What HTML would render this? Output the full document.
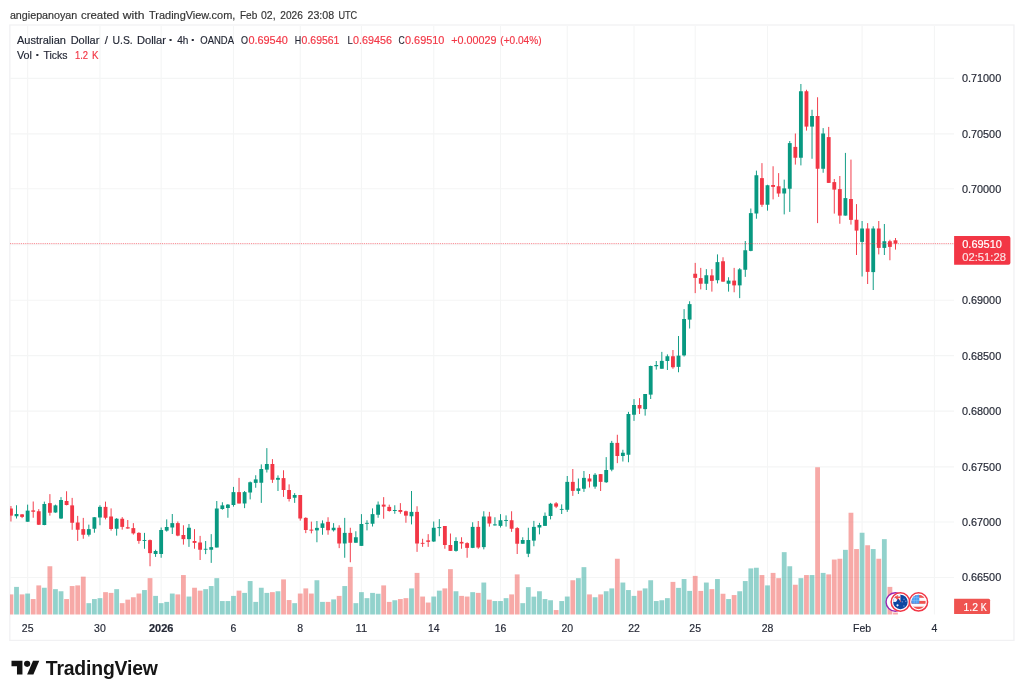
<!DOCTYPE html>
<html lang="en"><head><meta charset="utf-8"><title>AUDUSD chart - TradingView</title>
<style>
html,body{margin:0;padding:0;background:#fff;}
body{width:1024px;height:696px;overflow:hidden;position:relative;font-family:"Liberation Sans","DejaVu Sans",sans-serif;}
svg{position:absolute;left:0;top:0;display:block;}
text{font-family:"Liberation Sans","DejaVu Sans",sans-serif;filter:url(#tb);fill:currentColor;stroke:currentColor;stroke-width:0.18px;}
.ax{font-size:11.7px;color:#252936;}
.lg{font-size:11.6px;color:#252936;}
.rv{color:#f23645;}
.hd{font-size:11.6px;color:#333333;}
</style></head><body>
<svg width="1024" height="696" viewBox="0 0 1024 696">
<rect x="0" y="0" width="1024" height="696" fill="#ffffff"/>
<rect x="9.85" y="25.0" width="1004.1" height="615.4" fill="#ffffff" stroke="#f1f1f3" stroke-width="1.3"/>
<g stroke="#f4f5f5" stroke-width="1.1" fill="none">
<line x1="27.64" y1="26" x2="27.64" y2="614.5"/>
<line x1="99.96" y1="26" x2="99.96" y2="614.5"/>
<line x1="161.15" y1="26" x2="161.15" y2="614.5"/>
<line x1="233.47" y1="26" x2="233.47" y2="614.5"/>
<line x1="300.23" y1="26" x2="300.23" y2="614.5"/>
<line x1="361.42" y1="26" x2="361.42" y2="614.5"/>
<line x1="433.74" y1="26" x2="433.74" y2="614.5"/>
<line x1="500.49" y1="26" x2="500.49" y2="614.5"/>
<line x1="567.25" y1="26" x2="567.25" y2="614.5"/>
<line x1="634.01" y1="26" x2="634.01" y2="614.5"/>
<line x1="695.20" y1="26" x2="695.20" y2="614.5"/>
<line x1="767.52" y1="26" x2="767.52" y2="614.5"/>
<line x1="862.09" y1="26" x2="862.09" y2="614.5"/>
<line x1="934.41" y1="26" x2="934.41" y2="614.5"/>
<line x1="10" y1="78.40" x2="954" y2="78.40"/>
<line x1="10" y1="133.85" x2="954" y2="133.85"/>
<line x1="10" y1="188.70" x2="954" y2="188.70"/>
<line x1="10" y1="244.75" x2="954" y2="244.75"/>
<line x1="10" y1="300.20" x2="954" y2="300.20"/>
<line x1="10" y1="355.65" x2="954" y2="355.65"/>
<line x1="10" y1="411.10" x2="954" y2="411.10"/>
<line x1="10" y1="466.85" x2="954" y2="466.85"/>
<line x1="10" y1="522.00" x2="954" y2="522.00"/>
<line x1="10" y1="577.45" x2="954" y2="577.45"/>
</g>
<defs><filter id="tb" x="-5%" y="-30%" width="110%" height="160%"><feGaussianBlur stdDeviation="0.3"/></filter></defs>
<defs><clipPath id="pc"><rect x="10" y="26" width="944" height="589"/></clipPath></defs>
<g clip-path="url(#pc)">
<rect x="8.55" y="594.40" width="4.80" height="20.10" fill="rgba(239,83,80,0.5)"/>
<rect x="14.11" y="586.90" width="4.80" height="27.60" fill="rgba(38,166,154,0.5)"/>
<rect x="19.68" y="594.40" width="4.80" height="20.10" fill="rgba(239,83,80,0.5)"/>
<rect x="25.24" y="593.55" width="4.80" height="20.95" fill="rgba(38,166,154,0.5)"/>
<rect x="30.80" y="599.05" width="4.80" height="15.45" fill="rgba(239,83,80,0.5)"/>
<rect x="36.37" y="585.40" width="4.80" height="29.10" fill="rgba(239,83,80,0.5)"/>
<rect x="41.93" y="587.75" width="4.80" height="26.75" fill="rgba(38,166,154,0.5)"/>
<rect x="47.49" y="566.25" width="4.80" height="48.25" fill="rgba(239,83,80,0.5)"/>
<rect x="53.05" y="589.15" width="4.80" height="25.35" fill="rgba(38,166,154,0.5)"/>
<rect x="58.62" y="591.25" width="4.80" height="23.25" fill="rgba(38,166,154,0.5)"/>
<rect x="64.18" y="599.05" width="4.80" height="15.45" fill="rgba(239,83,80,0.5)"/>
<rect x="69.74" y="586.05" width="4.80" height="28.45" fill="rgba(239,83,80,0.5)"/>
<rect x="75.31" y="585.40" width="4.80" height="29.10" fill="rgba(239,83,80,0.5)"/>
<rect x="80.87" y="576.65" width="4.80" height="37.85" fill="rgba(239,83,80,0.5)"/>
<rect x="86.43" y="603.15" width="4.80" height="11.35" fill="rgba(38,166,154,0.5)"/>
<rect x="91.99" y="599.05" width="4.80" height="15.45" fill="rgba(38,166,154,0.5)"/>
<rect x="97.56" y="598.15" width="4.80" height="16.35" fill="rgba(38,166,154,0.5)"/>
<rect x="103.12" y="592.15" width="4.80" height="22.35" fill="rgba(239,83,80,0.5)"/>
<rect x="108.68" y="592.90" width="4.80" height="21.60" fill="rgba(239,83,80,0.5)"/>
<rect x="114.25" y="589.15" width="4.80" height="25.35" fill="rgba(38,166,154,0.5)"/>
<rect x="119.81" y="603.15" width="4.80" height="11.35" fill="rgba(239,83,80,0.5)"/>
<rect x="125.37" y="599.65" width="4.80" height="14.85" fill="rgba(239,83,80,0.5)"/>
<rect x="130.94" y="597.25" width="4.80" height="17.25" fill="rgba(239,83,80,0.5)"/>
<rect x="136.50" y="593.55" width="4.80" height="20.95" fill="rgba(239,83,80,0.5)"/>
<rect x="142.06" y="590.05" width="4.80" height="24.45" fill="rgba(38,166,154,0.5)"/>
<rect x="147.62" y="578.15" width="4.80" height="36.35" fill="rgba(239,83,80,0.5)"/>
<rect x="153.19" y="595.90" width="4.80" height="18.60" fill="rgba(38,166,154,0.5)"/>
<rect x="158.75" y="603.15" width="4.80" height="11.35" fill="rgba(38,166,154,0.5)"/>
<rect x="164.31" y="601.90" width="4.80" height="12.60" fill="rgba(38,166,154,0.5)"/>
<rect x="169.88" y="593.55" width="4.80" height="20.95" fill="rgba(38,166,154,0.5)"/>
<rect x="175.44" y="594.40" width="4.80" height="20.10" fill="rgba(239,83,80,0.5)"/>
<rect x="181.00" y="575.05" width="4.80" height="39.45" fill="rgba(239,83,80,0.5)"/>
<rect x="186.57" y="596.55" width="4.80" height="17.95" fill="rgba(38,166,154,0.5)"/>
<rect x="192.13" y="587.75" width="4.80" height="26.75" fill="rgba(239,83,80,0.5)"/>
<rect x="197.69" y="590.65" width="4.80" height="23.85" fill="rgba(239,83,80,0.5)"/>
<rect x="203.25" y="589.15" width="4.80" height="25.35" fill="rgba(38,166,154,0.5)"/>
<rect x="208.82" y="586.05" width="4.80" height="28.45" fill="rgba(38,166,154,0.5)"/>
<rect x="214.38" y="578.15" width="4.80" height="36.35" fill="rgba(38,166,154,0.5)"/>
<rect x="219.94" y="601.05" width="4.80" height="13.45" fill="rgba(38,166,154,0.5)"/>
<rect x="225.51" y="601.05" width="4.80" height="13.45" fill="rgba(38,166,154,0.5)"/>
<rect x="231.07" y="595.90" width="4.80" height="18.60" fill="rgba(38,166,154,0.5)"/>
<rect x="236.63" y="590.65" width="4.80" height="23.85" fill="rgba(239,83,80,0.5)"/>
<rect x="242.20" y="592.90" width="4.80" height="21.60" fill="rgba(38,166,154,0.5)"/>
<rect x="247.76" y="581.05" width="4.80" height="33.45" fill="rgba(38,166,154,0.5)"/>
<rect x="253.32" y="601.90" width="4.80" height="12.60" fill="rgba(38,166,154,0.5)"/>
<rect x="258.88" y="587.75" width="4.80" height="26.75" fill="rgba(38,166,154,0.5)"/>
<rect x="264.45" y="592.90" width="4.80" height="21.60" fill="rgba(38,166,154,0.5)"/>
<rect x="270.01" y="592.15" width="4.80" height="22.35" fill="rgba(239,83,80,0.5)"/>
<rect x="275.57" y="591.25" width="4.80" height="23.25" fill="rgba(38,166,154,0.5)"/>
<rect x="281.14" y="579.40" width="4.80" height="35.10" fill="rgba(239,83,80,0.5)"/>
<rect x="286.70" y="600.05" width="4.80" height="14.45" fill="rgba(239,83,80,0.5)"/>
<rect x="292.26" y="603.15" width="4.80" height="11.35" fill="rgba(38,166,154,0.5)"/>
<rect x="297.83" y="593.55" width="4.80" height="20.95" fill="rgba(239,83,80,0.5)"/>
<rect x="303.39" y="588.40" width="4.80" height="26.10" fill="rgba(239,83,80,0.5)"/>
<rect x="308.95" y="593.55" width="4.80" height="20.95" fill="rgba(239,83,80,0.5)"/>
<rect x="314.51" y="580.25" width="4.80" height="34.25" fill="rgba(38,166,154,0.5)"/>
<rect x="320.08" y="601.90" width="4.80" height="12.60" fill="rgba(38,166,154,0.5)"/>
<rect x="325.64" y="601.90" width="4.80" height="12.60" fill="rgba(239,83,80,0.5)"/>
<rect x="331.20" y="599.40" width="4.80" height="15.10" fill="rgba(38,166,154,0.5)"/>
<rect x="336.77" y="595.90" width="4.80" height="18.60" fill="rgba(239,83,80,0.5)"/>
<rect x="342.33" y="586.05" width="4.80" height="28.45" fill="rgba(38,166,154,0.5)"/>
<rect x="347.89" y="566.90" width="4.80" height="47.60" fill="rgba(239,83,80,0.5)"/>
<rect x="353.46" y="603.15" width="4.80" height="11.35" fill="rgba(38,166,154,0.5)"/>
<rect x="359.02" y="592.15" width="4.80" height="22.35" fill="rgba(38,166,154,0.5)"/>
<rect x="364.58" y="598.15" width="4.80" height="16.35" fill="rgba(38,166,154,0.5)"/>
<rect x="370.14" y="592.90" width="4.80" height="21.60" fill="rgba(38,166,154,0.5)"/>
<rect x="375.71" y="593.75" width="4.80" height="20.75" fill="rgba(38,166,154,0.5)"/>
<rect x="381.27" y="585.40" width="4.80" height="29.10" fill="rgba(239,83,80,0.5)"/>
<rect x="386.83" y="601.90" width="4.80" height="12.60" fill="rgba(239,83,80,0.5)"/>
<rect x="392.40" y="600.25" width="4.80" height="14.25" fill="rgba(38,166,154,0.5)"/>
<rect x="397.96" y="599.05" width="4.80" height="15.45" fill="rgba(239,83,80,0.5)"/>
<rect x="403.52" y="598.15" width="4.80" height="16.35" fill="rgba(239,83,80,0.5)"/>
<rect x="409.09" y="588.40" width="4.80" height="26.10" fill="rgba(38,166,154,0.5)"/>
<rect x="414.65" y="572.90" width="4.80" height="41.60" fill="rgba(239,83,80,0.5)"/>
<rect x="420.21" y="596.55" width="4.80" height="17.95" fill="rgba(239,83,80,0.5)"/>
<rect x="425.77" y="602.55" width="4.80" height="11.95" fill="rgba(239,83,80,0.5)"/>
<rect x="431.34" y="596.55" width="4.80" height="17.95" fill="rgba(38,166,154,0.5)"/>
<rect x="436.90" y="590.65" width="4.80" height="23.85" fill="rgba(38,166,154,0.5)"/>
<rect x="442.46" y="588.40" width="4.80" height="26.10" fill="rgba(239,83,80,0.5)"/>
<rect x="448.03" y="569.15" width="4.80" height="45.35" fill="rgba(239,83,80,0.5)"/>
<rect x="453.59" y="591.25" width="4.80" height="23.25" fill="rgba(38,166,154,0.5)"/>
<rect x="459.15" y="595.90" width="4.80" height="18.60" fill="rgba(239,83,80,0.5)"/>
<rect x="464.72" y="596.55" width="4.80" height="17.95" fill="rgba(239,83,80,0.5)"/>
<rect x="470.28" y="592.15" width="4.80" height="22.35" fill="rgba(38,166,154,0.5)"/>
<rect x="475.84" y="592.90" width="4.80" height="21.60" fill="rgba(239,83,80,0.5)"/>
<rect x="481.40" y="582.55" width="4.80" height="31.95" fill="rgba(38,166,154,0.5)"/>
<rect x="486.97" y="599.65" width="4.80" height="14.85" fill="rgba(239,83,80,0.5)"/>
<rect x="492.53" y="601.05" width="4.80" height="13.45" fill="rgba(38,166,154,0.5)"/>
<rect x="498.09" y="601.05" width="4.80" height="13.45" fill="rgba(38,166,154,0.5)"/>
<rect x="503.66" y="598.15" width="4.80" height="16.35" fill="rgba(38,166,154,0.5)"/>
<rect x="509.22" y="594.40" width="4.80" height="20.10" fill="rgba(239,83,80,0.5)"/>
<rect x="514.78" y="574.40" width="4.80" height="40.10" fill="rgba(239,83,80,0.5)"/>
<rect x="520.35" y="603.15" width="4.80" height="11.35" fill="rgba(38,166,154,0.5)"/>
<rect x="525.91" y="587.15" width="4.80" height="27.35" fill="rgba(38,166,154,0.5)"/>
<rect x="531.47" y="596.65" width="4.80" height="17.85" fill="rgba(38,166,154,0.5)"/>
<rect x="537.04" y="591.25" width="4.80" height="23.25" fill="rgba(38,166,154,0.5)"/>
<rect x="542.60" y="599.05" width="4.80" height="15.45" fill="rgba(38,166,154,0.5)"/>
<rect x="548.16" y="600.25" width="4.80" height="14.25" fill="rgba(38,166,154,0.5)"/>
<rect x="553.72" y="610.05" width="4.80" height="4.45" fill="rgba(239,83,80,0.5)"/>
<rect x="559.29" y="601.05" width="4.80" height="13.45" fill="rgba(38,166,154,0.5)"/>
<rect x="564.85" y="596.55" width="4.80" height="17.95" fill="rgba(38,166,154,0.5)"/>
<rect x="570.41" y="580.25" width="4.80" height="34.25" fill="rgba(239,83,80,0.5)"/>
<rect x="575.98" y="578.15" width="4.80" height="36.35" fill="rgba(38,166,154,0.5)"/>
<rect x="581.54" y="567.15" width="4.80" height="47.35" fill="rgba(38,166,154,0.5)"/>
<rect x="587.10" y="594.40" width="4.80" height="20.10" fill="rgba(239,83,80,0.5)"/>
<rect x="592.67" y="597.25" width="4.80" height="17.25" fill="rgba(38,166,154,0.5)"/>
<rect x="598.23" y="594.40" width="4.80" height="20.10" fill="rgba(239,83,80,0.5)"/>
<rect x="603.79" y="591.25" width="4.80" height="23.25" fill="rgba(38,166,154,0.5)"/>
<rect x="609.35" y="588.40" width="4.80" height="26.10" fill="rgba(38,166,154,0.5)"/>
<rect x="614.92" y="558.75" width="4.80" height="55.75" fill="rgba(239,83,80,0.5)"/>
<rect x="620.48" y="582.55" width="4.80" height="31.95" fill="rgba(38,166,154,0.5)"/>
<rect x="626.04" y="590.05" width="4.80" height="24.45" fill="rgba(38,166,154,0.5)"/>
<rect x="631.61" y="595.90" width="4.80" height="18.60" fill="rgba(38,166,154,0.5)"/>
<rect x="637.17" y="590.65" width="4.80" height="23.85" fill="rgba(239,83,80,0.5)"/>
<rect x="642.73" y="588.40" width="4.80" height="26.10" fill="rgba(38,166,154,0.5)"/>
<rect x="648.30" y="580.25" width="4.80" height="34.25" fill="rgba(38,166,154,0.5)"/>
<rect x="653.86" y="601.05" width="4.80" height="13.45" fill="rgba(38,166,154,0.5)"/>
<rect x="659.42" y="600.25" width="4.80" height="14.25" fill="rgba(38,166,154,0.5)"/>
<rect x="664.98" y="598.15" width="4.80" height="16.35" fill="rgba(38,166,154,0.5)"/>
<rect x="670.55" y="581.90" width="4.80" height="32.60" fill="rgba(239,83,80,0.5)"/>
<rect x="676.11" y="587.90" width="4.80" height="26.60" fill="rgba(38,166,154,0.5)"/>
<rect x="681.67" y="579.05" width="4.80" height="35.45" fill="rgba(38,166,154,0.5)"/>
<rect x="687.24" y="590.90" width="4.80" height="23.60" fill="rgba(38,166,154,0.5)"/>
<rect x="692.80" y="575.90" width="4.80" height="38.60" fill="rgba(239,83,80,0.5)"/>
<rect x="698.36" y="590.90" width="4.80" height="23.60" fill="rgba(239,83,80,0.5)"/>
<rect x="703.93" y="582.55" width="4.80" height="31.95" fill="rgba(38,166,154,0.5)"/>
<rect x="709.49" y="589.15" width="4.80" height="25.35" fill="rgba(239,83,80,0.5)"/>
<rect x="715.05" y="579.05" width="4.80" height="35.45" fill="rgba(38,166,154,0.5)"/>
<rect x="720.61" y="593.75" width="4.80" height="20.75" fill="rgba(239,83,80,0.5)"/>
<rect x="726.18" y="599.05" width="4.80" height="15.45" fill="rgba(38,166,154,0.5)"/>
<rect x="731.74" y="595.05" width="4.80" height="19.45" fill="rgba(239,83,80,0.5)"/>
<rect x="737.30" y="591.25" width="4.80" height="23.25" fill="rgba(38,166,154,0.5)"/>
<rect x="742.87" y="581.05" width="4.80" height="33.45" fill="rgba(38,166,154,0.5)"/>
<rect x="748.43" y="568.40" width="4.80" height="46.10" fill="rgba(38,166,154,0.5)"/>
<rect x="753.99" y="567.75" width="4.80" height="46.75" fill="rgba(38,166,154,0.5)"/>
<rect x="759.56" y="575.05" width="4.80" height="39.45" fill="rgba(239,83,80,0.5)"/>
<rect x="765.12" y="585.40" width="4.80" height="29.10" fill="rgba(38,166,154,0.5)"/>
<rect x="770.68" y="572.90" width="4.80" height="41.60" fill="rgba(239,83,80,0.5)"/>
<rect x="776.24" y="578.15" width="4.80" height="36.35" fill="rgba(239,83,80,0.5)"/>
<rect x="781.81" y="552.15" width="4.80" height="62.35" fill="rgba(38,166,154,0.5)"/>
<rect x="787.37" y="566.25" width="4.80" height="48.25" fill="rgba(38,166,154,0.5)"/>
<rect x="792.93" y="584.75" width="4.80" height="29.75" fill="rgba(239,83,80,0.5)"/>
<rect x="798.50" y="578.15" width="4.80" height="36.35" fill="rgba(38,166,154,0.5)"/>
<rect x="804.06" y="575.05" width="4.80" height="39.45" fill="rgba(239,83,80,0.5)"/>
<rect x="809.62" y="575.05" width="4.80" height="39.45" fill="rgba(38,166,154,0.5)"/>
<rect x="815.19" y="467.25" width="4.80" height="147.25" fill="rgba(239,83,80,0.5)"/>
<rect x="820.75" y="572.90" width="4.80" height="41.60" fill="rgba(38,166,154,0.5)"/>
<rect x="826.31" y="574.40" width="4.80" height="40.10" fill="rgba(239,83,80,0.5)"/>
<rect x="831.87" y="559.55" width="4.80" height="54.95" fill="rgba(239,83,80,0.5)"/>
<rect x="837.44" y="558.75" width="4.80" height="55.75" fill="rgba(239,83,80,0.5)"/>
<rect x="843.00" y="549.85" width="4.80" height="64.65" fill="rgba(38,166,154,0.5)"/>
<rect x="848.56" y="512.75" width="4.80" height="101.75" fill="rgba(239,83,80,0.5)"/>
<rect x="854.13" y="549.05" width="4.80" height="65.45" fill="rgba(239,83,80,0.5)"/>
<rect x="859.69" y="532.75" width="4.80" height="81.75" fill="rgba(38,166,154,0.5)"/>
<rect x="865.25" y="545.25" width="4.80" height="69.25" fill="rgba(239,83,80,0.5)"/>
<rect x="870.82" y="549.05" width="4.80" height="65.45" fill="rgba(38,166,154,0.5)"/>
<rect x="876.38" y="558.75" width="4.80" height="55.75" fill="rgba(239,83,80,0.5)"/>
<rect x="881.94" y="539.15" width="4.80" height="75.35" fill="rgba(38,166,154,0.5)"/>
<rect x="887.50" y="586.90" width="4.80" height="27.60" fill="rgba(239,83,80,0.5)"/>
<rect x="893.07" y="612.55" width="4.80" height="1.95" fill="rgba(239,83,80,0.5)"/>
<rect x="10.47" y="506.00" width="0.95" height="15.50" fill="#f23645"/>
<rect x="9.02" y="508.50" width="3.85" height="7.12" fill="#f23645"/>
<rect x="16.04" y="505.25" width="0.95" height="13.25" fill="#089981"/>
<rect x="14.59" y="514.00" width="3.85" height="2.25" fill="#089981"/>
<rect x="21.60" y="514.00" width="0.95" height="4.12" fill="#f23645"/>
<rect x="20.15" y="514.38" width="3.85" height="2.50" fill="#f23645"/>
<rect x="27.16" y="504.62" width="0.95" height="17.12" fill="#089981"/>
<rect x="25.71" y="510.62" width="3.85" height="11.12" fill="#089981"/>
<rect x="32.73" y="501.50" width="0.95" height="16.25" fill="#f23645"/>
<rect x="31.28" y="510.38" width="3.85" height="1.38" fill="#f23645"/>
<rect x="38.29" y="509.12" width="0.95" height="15.88" fill="#f23645"/>
<rect x="36.84" y="511.25" width="3.85" height="13.50" fill="#f23645"/>
<rect x="43.85" y="501.62" width="0.95" height="23.62" fill="#089981"/>
<rect x="42.40" y="504.00" width="3.85" height="21.00" fill="#089981"/>
<rect x="49.42" y="494.12" width="0.95" height="21.50" fill="#f23645"/>
<rect x="47.97" y="503.12" width="3.85" height="9.62" fill="#f23645"/>
<rect x="54.98" y="504.62" width="0.95" height="8.12" fill="#089981"/>
<rect x="53.53" y="505.38" width="3.85" height="7.12" fill="#089981"/>
<rect x="60.54" y="497.12" width="0.95" height="21.88" fill="#089981"/>
<rect x="59.09" y="500.00" width="3.85" height="18.50" fill="#089981"/>
<rect x="66.11" y="491.25" width="0.95" height="14.12" fill="#f23645"/>
<rect x="64.66" y="501.00" width="3.85" height="4.00" fill="#f23645"/>
<rect x="71.67" y="497.88" width="0.95" height="31.88" fill="#f23645"/>
<rect x="70.22" y="505.38" width="3.85" height="17.38" fill="#f23645"/>
<rect x="77.23" y="515.88" width="0.95" height="25.00" fill="#f23645"/>
<rect x="75.78" y="522.50" width="3.85" height="7.25" fill="#f23645"/>
<rect x="82.79" y="517.88" width="0.95" height="20.88" fill="#f23645"/>
<rect x="81.34" y="529.12" width="3.85" height="5.62" fill="#f23645"/>
<rect x="88.36" y="524.62" width="0.95" height="11.88" fill="#089981"/>
<rect x="86.91" y="529.12" width="3.85" height="5.62" fill="#089981"/>
<rect x="93.92" y="517.12" width="0.95" height="15.62" fill="#089981"/>
<rect x="92.47" y="517.25" width="3.85" height="11.50" fill="#089981"/>
<rect x="99.48" y="505.25" width="0.95" height="20.00" fill="#089981"/>
<rect x="98.03" y="506.88" width="3.85" height="10.62" fill="#089981"/>
<rect x="105.05" y="501.62" width="0.95" height="17.75" fill="#f23645"/>
<rect x="103.60" y="506.88" width="3.85" height="10.88" fill="#f23645"/>
<rect x="110.61" y="508.38" width="0.95" height="22.25" fill="#f23645"/>
<rect x="109.16" y="516.50" width="3.85" height="12.50" fill="#f23645"/>
<rect x="116.17" y="518.12" width="0.95" height="17.50" fill="#089981"/>
<rect x="114.72" y="518.75" width="3.85" height="10.00" fill="#089981"/>
<rect x="121.73" y="517.12" width="0.95" height="12.50" fill="#f23645"/>
<rect x="120.28" y="518.75" width="3.85" height="8.12" fill="#f23645"/>
<rect x="127.30" y="520.00" width="0.95" height="8.75" fill="#f23645"/>
<rect x="125.85" y="527.25" width="3.85" height="1.25" fill="#f23645"/>
<rect x="132.86" y="523.12" width="0.95" height="11.50" fill="#f23645"/>
<rect x="131.41" y="528.12" width="3.85" height="5.25" fill="#f23645"/>
<rect x="138.42" y="532.25" width="0.95" height="11.50" fill="#f23645"/>
<rect x="136.97" y="532.88" width="3.85" height="8.00" fill="#f23645"/>
<rect x="143.99" y="532.88" width="0.95" height="15.88" fill="#089981"/>
<rect x="142.54" y="539.99" width="3.85" height="0.90" fill="#089981"/>
<rect x="149.55" y="539.50" width="0.95" height="26.75" fill="#f23645"/>
<rect x="148.10" y="540.12" width="3.85" height="13.00" fill="#f23645"/>
<rect x="155.11" y="549.75" width="0.95" height="7.12" fill="#089981"/>
<rect x="153.66" y="551.00" width="3.85" height="3.00" fill="#089981"/>
<rect x="160.68" y="527.50" width="0.95" height="30.25" fill="#089981"/>
<rect x="159.23" y="530.00" width="3.85" height="24.00" fill="#089981"/>
<rect x="166.24" y="519.38" width="0.95" height="12.25" fill="#089981"/>
<rect x="164.79" y="527.00" width="3.85" height="3.62" fill="#089981"/>
<rect x="171.80" y="514.00" width="0.95" height="20.00" fill="#089981"/>
<rect x="170.35" y="523.12" width="3.85" height="4.38" fill="#089981"/>
<rect x="177.36" y="521.50" width="0.95" height="14.75" fill="#f23645"/>
<rect x="175.91" y="523.12" width="3.85" height="12.50" fill="#f23645"/>
<rect x="182.93" y="525.25" width="0.95" height="19.38" fill="#f23645"/>
<rect x="181.48" y="535.00" width="3.85" height="4.12" fill="#f23645"/>
<rect x="188.49" y="524.00" width="0.95" height="22.88" fill="#089981"/>
<rect x="187.04" y="527.75" width="3.85" height="11.38" fill="#089981"/>
<rect x="194.05" y="529.12" width="0.95" height="19.62" fill="#f23645"/>
<rect x="192.60" y="541.00" width="3.85" height="1.88" fill="#f23645"/>
<rect x="199.62" y="535.88" width="0.95" height="24.12" fill="#f23645"/>
<rect x="198.17" y="542.50" width="3.85" height="7.25" fill="#f23645"/>
<rect x="205.18" y="541.00" width="0.95" height="13.12" fill="#089981"/>
<rect x="203.73" y="548.80" width="3.85" height="0.90" fill="#089981"/>
<rect x="210.74" y="534.12" width="0.95" height="28.75" fill="#089981"/>
<rect x="209.29" y="547.12" width="3.85" height="2.62" fill="#089981"/>
<rect x="216.31" y="501.00" width="0.95" height="46.50" fill="#089981"/>
<rect x="214.86" y="508.50" width="3.85" height="39.00" fill="#089981"/>
<rect x="221.87" y="502.25" width="0.95" height="7.50" fill="#089981"/>
<rect x="220.42" y="505.38" width="3.85" height="3.62" fill="#089981"/>
<rect x="227.43" y="504.00" width="0.95" height="13.75" fill="#089981"/>
<rect x="225.98" y="504.62" width="3.85" height="3.38" fill="#089981"/>
<rect x="232.99" y="486.88" width="0.95" height="19.75" fill="#089981"/>
<rect x="231.54" y="492.12" width="3.85" height="12.88" fill="#089981"/>
<rect x="238.56" y="477.88" width="0.95" height="25.62" fill="#f23645"/>
<rect x="237.11" y="492.12" width="3.85" height="11.38" fill="#f23645"/>
<rect x="244.12" y="491.00" width="0.95" height="17.12" fill="#089981"/>
<rect x="242.67" y="492.12" width="3.85" height="11.38" fill="#089981"/>
<rect x="249.68" y="481.50" width="0.95" height="17.88" fill="#089981"/>
<rect x="248.23" y="482.25" width="3.85" height="10.25" fill="#089981"/>
<rect x="255.25" y="475.25" width="0.95" height="12.50" fill="#089981"/>
<rect x="253.80" y="479.38" width="3.85" height="3.50" fill="#089981"/>
<rect x="260.81" y="464.38" width="0.95" height="38.50" fill="#089981"/>
<rect x="259.36" y="469.00" width="3.85" height="13.75" fill="#089981"/>
<rect x="266.37" y="448.12" width="0.95" height="24.38" fill="#089981"/>
<rect x="264.92" y="464.00" width="3.85" height="5.62" fill="#089981"/>
<rect x="271.94" y="459.12" width="0.95" height="23.75" fill="#f23645"/>
<rect x="270.49" y="464.00" width="3.85" height="15.75" fill="#f23645"/>
<rect x="277.50" y="475.38" width="0.95" height="15.62" fill="#089981"/>
<rect x="276.05" y="477.88" width="3.85" height="1.88" fill="#089981"/>
<rect x="283.06" y="470.25" width="0.95" height="26.62" fill="#f23645"/>
<rect x="281.61" y="478.12" width="3.85" height="11.88" fill="#f23645"/>
<rect x="288.62" y="484.38" width="0.95" height="17.12" fill="#f23645"/>
<rect x="287.17" y="490.00" width="3.85" height="9.00" fill="#f23645"/>
<rect x="294.19" y="493.12" width="0.95" height="9.75" fill="#089981"/>
<rect x="292.74" y="495.00" width="3.85" height="2.75" fill="#089981"/>
<rect x="299.75" y="495.00" width="0.95" height="25.62" fill="#f23645"/>
<rect x="298.30" y="495.00" width="3.85" height="23.50" fill="#f23645"/>
<rect x="305.31" y="517.25" width="0.95" height="15.88" fill="#f23645"/>
<rect x="303.86" y="517.88" width="3.85" height="12.12" fill="#f23645"/>
<rect x="310.88" y="521.62" width="0.95" height="11.75" fill="#f23645"/>
<rect x="309.43" y="529.62" width="3.85" height="1.00" fill="#f23645"/>
<rect x="316.44" y="521.00" width="0.95" height="21.25" fill="#089981"/>
<rect x="314.99" y="527.88" width="3.85" height="2.50" fill="#089981"/>
<rect x="322.00" y="520.38" width="0.95" height="14.38" fill="#089981"/>
<rect x="320.55" y="523.38" width="3.85" height="4.50" fill="#089981"/>
<rect x="327.57" y="517.25" width="0.95" height="17.50" fill="#f23645"/>
<rect x="326.12" y="521.88" width="3.85" height="8.38" fill="#f23645"/>
<rect x="333.13" y="523.12" width="0.95" height="8.38" fill="#089981"/>
<rect x="331.68" y="527.75" width="3.85" height="2.50" fill="#089981"/>
<rect x="338.69" y="525.25" width="0.95" height="22.88" fill="#f23645"/>
<rect x="337.24" y="527.75" width="3.85" height="15.75" fill="#f23645"/>
<rect x="344.25" y="517.88" width="0.95" height="39.88" fill="#089981"/>
<rect x="342.80" y="532.88" width="3.85" height="10.62" fill="#089981"/>
<rect x="349.82" y="527.75" width="0.95" height="34.50" fill="#f23645"/>
<rect x="348.37" y="532.88" width="3.85" height="9.88" fill="#f23645"/>
<rect x="355.38" y="531.25" width="0.95" height="11.50" fill="#089981"/>
<rect x="353.93" y="537.25" width="3.85" height="5.50" fill="#089981"/>
<rect x="360.94" y="514.12" width="0.95" height="31.75" fill="#089981"/>
<rect x="359.49" y="524.00" width="3.85" height="21.88" fill="#089981"/>
<rect x="366.51" y="520.25" width="0.95" height="10.12" fill="#089981"/>
<rect x="365.06" y="522.86" width="3.85" height="0.90" fill="#089981"/>
<rect x="372.07" y="508.38" width="0.95" height="18.12" fill="#089981"/>
<rect x="370.62" y="514.12" width="3.85" height="9.62" fill="#089981"/>
<rect x="377.63" y="501.50" width="0.95" height="16.25" fill="#089981"/>
<rect x="376.18" y="504.62" width="3.85" height="10.12" fill="#089981"/>
<rect x="383.20" y="497.12" width="0.95" height="21.62" fill="#f23645"/>
<rect x="381.75" y="504.62" width="3.85" height="2.00" fill="#f23645"/>
<rect x="388.76" y="504.62" width="0.95" height="7.00" fill="#f23645"/>
<rect x="387.31" y="506.88" width="3.85" height="4.12" fill="#f23645"/>
<rect x="394.32" y="505.25" width="0.95" height="8.50" fill="#089981"/>
<rect x="392.87" y="510.00" width="3.85" height="1.00" fill="#089981"/>
<rect x="399.88" y="503.12" width="0.95" height="10.62" fill="#f23645"/>
<rect x="398.43" y="510.00" width="3.85" height="1.88" fill="#f23645"/>
<rect x="405.45" y="510.62" width="0.95" height="12.12" fill="#f23645"/>
<rect x="404.00" y="511.25" width="3.85" height="4.38" fill="#f23645"/>
<rect x="411.01" y="491.00" width="0.95" height="33.38" fill="#089981"/>
<rect x="409.56" y="511.88" width="3.85" height="4.38" fill="#089981"/>
<rect x="416.57" y="506.25" width="0.95" height="45.62" fill="#f23645"/>
<rect x="415.12" y="511.88" width="3.85" height="31.62" fill="#f23645"/>
<rect x="422.14" y="538.75" width="0.95" height="8.12" fill="#f23645"/>
<rect x="420.69" y="542.86" width="3.85" height="0.90" fill="#f23645"/>
<rect x="427.70" y="534.12" width="0.95" height="12.75" fill="#f23645"/>
<rect x="426.25" y="540.38" width="3.85" height="1.50" fill="#f23645"/>
<rect x="433.26" y="521.50" width="0.95" height="20.38" fill="#089981"/>
<rect x="431.81" y="527.75" width="3.85" height="13.75" fill="#089981"/>
<rect x="438.83" y="519.12" width="0.95" height="17.12" fill="#089981"/>
<rect x="437.38" y="527.12" width="3.85" height="1.00" fill="#089981"/>
<rect x="444.39" y="526.00" width="0.95" height="22.75" fill="#f23645"/>
<rect x="442.94" y="526.00" width="3.85" height="19.00" fill="#f23645"/>
<rect x="449.95" y="533.50" width="0.95" height="17.50" fill="#f23645"/>
<rect x="448.50" y="545.00" width="3.85" height="5.88" fill="#f23645"/>
<rect x="455.51" y="537.25" width="0.95" height="14.38" fill="#089981"/>
<rect x="454.06" y="541.00" width="3.85" height="9.88" fill="#089981"/>
<rect x="461.08" y="537.25" width="0.95" height="11.50" fill="#f23645"/>
<rect x="459.63" y="541.88" width="3.85" height="1.62" fill="#f23645"/>
<rect x="466.64" y="542.25" width="0.95" height="15.50" fill="#f23645"/>
<rect x="465.19" y="543.12" width="3.85" height="4.75" fill="#f23645"/>
<rect x="472.20" y="522.25" width="0.95" height="25.88" fill="#089981"/>
<rect x="470.75" y="526.88" width="3.85" height="21.00" fill="#089981"/>
<rect x="477.77" y="521.00" width="0.95" height="27.75" fill="#f23645"/>
<rect x="476.32" y="526.88" width="3.85" height="20.62" fill="#f23645"/>
<rect x="483.33" y="511.25" width="0.95" height="38.12" fill="#089981"/>
<rect x="481.88" y="516.50" width="3.85" height="30.62" fill="#089981"/>
<rect x="488.89" y="511.88" width="0.95" height="14.75" fill="#f23645"/>
<rect x="487.44" y="516.50" width="3.85" height="7.00" fill="#f23645"/>
<rect x="494.46" y="517.25" width="0.95" height="8.38" fill="#089981"/>
<rect x="493.01" y="524.38" width="3.85" height="1.00" fill="#089981"/>
<rect x="500.02" y="514.12" width="0.95" height="13.38" fill="#089981"/>
<rect x="498.57" y="520.25" width="3.85" height="5.62" fill="#089981"/>
<rect x="505.58" y="515.38" width="0.95" height="11.25" fill="#089981"/>
<rect x="504.13" y="519.99" width="3.85" height="0.90" fill="#089981"/>
<rect x="511.14" y="511.25" width="0.95" height="20.62" fill="#f23645"/>
<rect x="509.69" y="520.25" width="3.85" height="8.50" fill="#f23645"/>
<rect x="516.71" y="527.12" width="0.95" height="26.88" fill="#f23645"/>
<rect x="515.26" y="528.12" width="3.85" height="15.62" fill="#f23645"/>
<rect x="522.27" y="537.25" width="0.95" height="6.50" fill="#089981"/>
<rect x="520.82" y="540.00" width="3.85" height="3.75" fill="#089981"/>
<rect x="527.83" y="527.75" width="0.95" height="29.38" fill="#089981"/>
<rect x="526.38" y="540.00" width="3.85" height="13.75" fill="#089981"/>
<rect x="533.40" y="520.88" width="0.95" height="25.38" fill="#089981"/>
<rect x="531.95" y="526.88" width="3.85" height="13.75" fill="#089981"/>
<rect x="538.96" y="522.88" width="0.95" height="11.50" fill="#089981"/>
<rect x="537.51" y="525.00" width="3.85" height="2.50" fill="#089981"/>
<rect x="544.52" y="512.50" width="0.95" height="13.38" fill="#089981"/>
<rect x="543.07" y="515.88" width="3.85" height="10.00" fill="#089981"/>
<rect x="550.09" y="502.88" width="0.95" height="16.50" fill="#089981"/>
<rect x="548.64" y="503.75" width="3.85" height="12.25" fill="#089981"/>
<rect x="555.65" y="502.12" width="0.95" height="6.00" fill="#f23645"/>
<rect x="554.20" y="503.38" width="3.85" height="3.25" fill="#f23645"/>
<rect x="561.21" y="504.38" width="0.95" height="9.62" fill="#089981"/>
<rect x="559.76" y="508.93" width="3.85" height="0.90" fill="#089981"/>
<rect x="566.77" y="476.00" width="0.95" height="35.88" fill="#089981"/>
<rect x="565.33" y="481.88" width="3.85" height="27.88" fill="#089981"/>
<rect x="572.34" y="469.00" width="0.95" height="26.88" fill="#f23645"/>
<rect x="570.89" y="481.88" width="3.85" height="9.00" fill="#f23645"/>
<rect x="577.90" y="478.50" width="0.95" height="15.50" fill="#089981"/>
<rect x="576.45" y="488.38" width="3.85" height="2.50" fill="#089981"/>
<rect x="583.46" y="471.00" width="0.95" height="20.88" fill="#089981"/>
<rect x="582.01" y="477.88" width="3.85" height="10.88" fill="#089981"/>
<rect x="589.03" y="474.00" width="0.95" height="13.50" fill="#f23645"/>
<rect x="587.58" y="478.50" width="3.85" height="3.00" fill="#f23645"/>
<rect x="594.59" y="473.12" width="0.95" height="15.62" fill="#089981"/>
<rect x="593.14" y="474.75" width="3.85" height="11.88" fill="#089981"/>
<rect x="600.15" y="474.00" width="0.95" height="17.00" fill="#f23645"/>
<rect x="598.70" y="474.12" width="3.85" height="7.75" fill="#f23645"/>
<rect x="605.72" y="457.12" width="0.95" height="25.75" fill="#089981"/>
<rect x="604.27" y="470.00" width="3.85" height="12.25" fill="#089981"/>
<rect x="611.28" y="440.88" width="0.95" height="30.38" fill="#089981"/>
<rect x="609.83" y="442.88" width="3.85" height="26.75" fill="#089981"/>
<rect x="616.84" y="434.75" width="0.95" height="28.38" fill="#f23645"/>
<rect x="615.39" y="442.88" width="3.85" height="13.12" fill="#f23645"/>
<rect x="622.40" y="449.75" width="0.95" height="11.75" fill="#089981"/>
<rect x="620.96" y="452.75" width="3.85" height="3.25" fill="#089981"/>
<rect x="627.97" y="411.88" width="0.95" height="50.38" fill="#089981"/>
<rect x="626.52" y="414.00" width="3.85" height="40.75" fill="#089981"/>
<rect x="633.53" y="399.12" width="0.95" height="21.75" fill="#089981"/>
<rect x="632.08" y="405.00" width="3.85" height="9.75" fill="#089981"/>
<rect x="639.09" y="398.12" width="0.95" height="15.88" fill="#f23645"/>
<rect x="637.64" y="405.00" width="3.85" height="3.50" fill="#f23645"/>
<rect x="644.66" y="394.00" width="0.95" height="21.62" fill="#089981"/>
<rect x="643.21" y="394.00" width="3.85" height="15.12" fill="#089981"/>
<rect x="650.22" y="365.62" width="0.95" height="33.38" fill="#089981"/>
<rect x="648.77" y="366.00" width="3.85" height="28.62" fill="#089981"/>
<rect x="655.78" y="361.00" width="0.95" height="8.62" fill="#089981"/>
<rect x="654.33" y="365.00" width="3.85" height="1.25" fill="#089981"/>
<rect x="661.35" y="351.88" width="0.95" height="16.88" fill="#089981"/>
<rect x="659.90" y="360.88" width="3.85" height="7.88" fill="#089981"/>
<rect x="666.91" y="354.38" width="0.95" height="15.62" fill="#089981"/>
<rect x="665.46" y="356.25" width="3.85" height="4.75" fill="#089981"/>
<rect x="672.47" y="350.00" width="0.95" height="18.75" fill="#f23645"/>
<rect x="671.02" y="356.25" width="3.85" height="11.00" fill="#f23645"/>
<rect x="678.03" y="336.00" width="0.95" height="36.25" fill="#089981"/>
<rect x="676.59" y="355.62" width="3.85" height="11.25" fill="#089981"/>
<rect x="683.60" y="309.12" width="0.95" height="47.38" fill="#089981"/>
<rect x="682.15" y="319.00" width="3.85" height="36.38" fill="#089981"/>
<rect x="689.16" y="301.25" width="0.95" height="27.25" fill="#089981"/>
<rect x="687.71" y="304.12" width="3.85" height="15.50" fill="#089981"/>
<rect x="694.72" y="262.88" width="0.95" height="30.25" fill="#f23645"/>
<rect x="693.27" y="273.75" width="3.85" height="4.12" fill="#f23645"/>
<rect x="700.29" y="267.88" width="0.95" height="21.50" fill="#f23645"/>
<rect x="698.84" y="278.12" width="3.85" height="5.62" fill="#f23645"/>
<rect x="705.85" y="269.12" width="0.95" height="20.88" fill="#089981"/>
<rect x="704.40" y="275.25" width="3.85" height="8.50" fill="#089981"/>
<rect x="711.41" y="269.12" width="0.95" height="22.50" fill="#f23645"/>
<rect x="709.96" y="275.38" width="3.85" height="5.50" fill="#f23645"/>
<rect x="716.98" y="254.38" width="0.95" height="29.00" fill="#089981"/>
<rect x="715.53" y="262.12" width="3.85" height="18.12" fill="#089981"/>
<rect x="722.54" y="257.25" width="0.95" height="24.62" fill="#f23645"/>
<rect x="721.09" y="261.25" width="3.85" height="20.38" fill="#f23645"/>
<rect x="728.10" y="277.25" width="0.95" height="14.38" fill="#089981"/>
<rect x="726.65" y="280.62" width="3.85" height="3.12" fill="#089981"/>
<rect x="733.66" y="267.88" width="0.95" height="24.38" fill="#f23645"/>
<rect x="732.22" y="280.62" width="3.85" height="4.75" fill="#f23645"/>
<rect x="739.23" y="268.12" width="0.95" height="30.00" fill="#089981"/>
<rect x="737.78" y="269.38" width="3.85" height="16.00" fill="#089981"/>
<rect x="744.79" y="241.00" width="0.95" height="35.88" fill="#089981"/>
<rect x="743.34" y="250.25" width="3.85" height="19.50" fill="#089981"/>
<rect x="750.35" y="208.50" width="0.95" height="42.75" fill="#089981"/>
<rect x="748.90" y="213.12" width="3.85" height="37.75" fill="#089981"/>
<rect x="755.92" y="170.62" width="0.95" height="48.12" fill="#089981"/>
<rect x="754.47" y="175.25" width="3.85" height="38.25" fill="#089981"/>
<rect x="761.48" y="163.12" width="0.95" height="43.75" fill="#f23645"/>
<rect x="760.03" y="178.12" width="3.85" height="26.62" fill="#f23645"/>
<rect x="767.04" y="184.75" width="0.95" height="25.88" fill="#089981"/>
<rect x="765.59" y="185.25" width="3.85" height="19.50" fill="#089981"/>
<rect x="772.61" y="166.25" width="0.95" height="33.12" fill="#f23645"/>
<rect x="771.16" y="185.00" width="3.85" height="1.88" fill="#f23645"/>
<rect x="778.17" y="173.12" width="0.95" height="23.75" fill="#f23645"/>
<rect x="776.72" y="186.25" width="3.85" height="7.25" fill="#f23645"/>
<rect x="783.73" y="179.62" width="0.95" height="34.75" fill="#089981"/>
<rect x="782.28" y="188.38" width="3.85" height="5.12" fill="#089981"/>
<rect x="789.29" y="141.00" width="0.95" height="70.90" fill="#089981"/>
<rect x="787.85" y="143.10" width="3.85" height="45.65" fill="#089981"/>
<rect x="794.86" y="133.50" width="0.95" height="31.10" fill="#f23645"/>
<rect x="793.41" y="146.90" width="3.85" height="10.85" fill="#f23645"/>
<rect x="800.42" y="84.00" width="0.95" height="81.40" fill="#089981"/>
<rect x="798.97" y="91.25" width="3.85" height="66.50" fill="#089981"/>
<rect x="805.98" y="89.75" width="0.95" height="40.85" fill="#f23645"/>
<rect x="804.53" y="91.25" width="3.85" height="35.35" fill="#f23645"/>
<rect x="811.55" y="109.75" width="0.95" height="49.00" fill="#089981"/>
<rect x="810.10" y="116.00" width="3.85" height="10.60" fill="#089981"/>
<rect x="817.11" y="97.25" width="0.95" height="125.85" fill="#f23645"/>
<rect x="815.66" y="116.00" width="3.85" height="52.75" fill="#f23645"/>
<rect x="822.67" y="128.10" width="0.95" height="44.65" fill="#089981"/>
<rect x="821.22" y="133.50" width="3.85" height="35.25" fill="#089981"/>
<rect x="828.24" y="126.90" width="0.95" height="56.10" fill="#f23645"/>
<rect x="826.79" y="137.10" width="3.85" height="45.80" fill="#f23645"/>
<rect x="833.80" y="179.00" width="0.95" height="34.60" fill="#f23645"/>
<rect x="832.35" y="182.10" width="3.85" height="7.50" fill="#f23645"/>
<rect x="839.36" y="176.00" width="0.95" height="47.75" fill="#f23645"/>
<rect x="837.91" y="189.10" width="3.85" height="26.50" fill="#f23645"/>
<rect x="844.92" y="152.90" width="0.95" height="62.70" fill="#089981"/>
<rect x="843.48" y="198.10" width="3.85" height="17.50" fill="#089981"/>
<rect x="850.49" y="159.60" width="0.95" height="65.00" fill="#f23645"/>
<rect x="849.04" y="199.00" width="3.85" height="20.90" fill="#f23645"/>
<rect x="856.05" y="204.10" width="0.95" height="50.90" fill="#f23645"/>
<rect x="854.60" y="219.75" width="3.85" height="10.85" fill="#f23645"/>
<rect x="861.61" y="221.00" width="0.95" height="55.50" fill="#089981"/>
<rect x="860.16" y="228.50" width="3.85" height="13.40" fill="#089981"/>
<rect x="867.18" y="223.10" width="0.95" height="60.90" fill="#f23645"/>
<rect x="865.73" y="228.50" width="3.85" height="43.40" fill="#f23645"/>
<rect x="872.74" y="226.25" width="0.95" height="63.75" fill="#089981"/>
<rect x="871.29" y="228.50" width="3.85" height="43.60" fill="#089981"/>
<rect x="878.30" y="221.00" width="0.95" height="33.40" fill="#f23645"/>
<rect x="876.85" y="228.50" width="3.85" height="19.40" fill="#f23645"/>
<rect x="883.87" y="224.00" width="0.95" height="31.00" fill="#089981"/>
<rect x="882.42" y="241.25" width="3.85" height="6.65" fill="#089981"/>
<rect x="889.43" y="239.75" width="0.95" height="20.50" fill="#f23645"/>
<rect x="887.98" y="241.25" width="3.85" height="5.65" fill="#f23645"/>
<rect x="894.99" y="238.00" width="0.95" height="11.60" fill="#f23645"/>
<rect x="893.54" y="240.30" width="3.85" height="3.30" fill="#f23645"/>
</g>
<line x1="10" y1="243.6" x2="954" y2="243.6" stroke="#f23645" stroke-width="0.93" stroke-opacity="0.68" stroke-dasharray="0.927 0.927"/>
<circle cx="895.3" cy="601.95" r="9.25" fill="#fff" stroke="#9c27b0" stroke-width="1.4"/>
<g>
<circle cx="900.4" cy="601.95" r="9.25" fill="#fff" stroke="#f23645" stroke-width="1.5"/>
<clipPath id="cau"><circle cx="900.4" cy="601.95" r="7.3"/></clipPath>
<g clip-path="url(#cau)">
<rect x="893" y="594" width="15" height="16" fill="#0d47a1"/>
<rect x="893" y="594" width="7.4" height="7.9" fill="#f5f7ff"/>
<path d="M893 594 L900.4 601.9" stroke="#ef5350" stroke-width="1.6"/>
<path d="M894 597.2 H900.4 M897 594 V598" stroke="#ef5350" stroke-width="1.5" fill="none"/>
<path d="M898.2 598.6 L900.4 601.9 L896 601.9 Z" fill="#0d47a1"/>
<circle cx="897.5" cy="605.3" r="1.1" fill="#e8eefc"/>
<circle cx="904" cy="599.2" r="0.7" fill="#6f92d8"/>
<circle cx="905.8" cy="601.3" r="0.7" fill="#6f92d8"/>
<circle cx="903.9" cy="606" r="0.8" fill="#6f92d8"/>
<circle cx="902.2" cy="601.8" r="0.6" fill="#9db6e8"/>
</g></g>
<g>
<circle cx="918.5" cy="601.95" r="9.1" fill="#fff" stroke="#f23645" stroke-width="1.5"/>
<clipPath id="cus"><circle cx="918.5" cy="601.95" r="7.2"/></clipPath>
<g clip-path="url(#cus)">
<rect x="911" y="594" width="16" height="16" fill="#fafbfd"/>
<rect x="911" y="594.90" width="16" height="2.9" fill="#ef5350"/>
<rect x="911" y="600.90" width="16" height="2.9" fill="#ef5350"/>
<rect x="911" y="606.70" width="16" height="2.9" fill="#ef5350"/>
<rect x="911" y="594" width="8.3" height="9.7" fill="#4a9bf0"/>
<path d="M911 597.6 H919.3 M911 600.6 H919.3 M914.2 594 V603.7 M916.8 594 V603.7" stroke="#8ec2f7" stroke-width="0.5" fill="none"/>
</g></g>
<text class="ax" x="961.9" y="82.40" textLength="39.3" lengthAdjust="spacingAndGlyphs">0.71000</text>
<text class="ax" x="961.9" y="137.85" textLength="39.3" lengthAdjust="spacingAndGlyphs">0.70500</text>
<text class="ax" x="961.9" y="193.30" textLength="39.3" lengthAdjust="spacingAndGlyphs">0.70000</text>
<text class="ax" x="961.9" y="304.20" textLength="39.3" lengthAdjust="spacingAndGlyphs">0.69000</text>
<text class="ax" x="961.9" y="359.65" textLength="39.3" lengthAdjust="spacingAndGlyphs">0.68500</text>
<text class="ax" x="961.9" y="415.10" textLength="39.3" lengthAdjust="spacingAndGlyphs">0.68000</text>
<text class="ax" x="961.9" y="470.55" textLength="39.3" lengthAdjust="spacingAndGlyphs">0.67500</text>
<text class="ax" x="961.9" y="526.00" textLength="39.3" lengthAdjust="spacingAndGlyphs">0.67000</text>
<text class="ax" x="961.9" y="581.45" textLength="39.3" lengthAdjust="spacingAndGlyphs">0.66500</text>
<path d="M954.1 236 H1008.4 a2 2 0 0 1 2 2 V262.75 a2 2 0 0 1 -2 2 H954.1 Z" fill="#f23645"/>
<text class="ax" x="962.25" y="248.1" textLength="39.7" lengthAdjust="spacingAndGlyphs" style="color:#ffffff">0.69510</text>
<text class="ax" x="962.25" y="261.3" textLength="43.7" lengthAdjust="spacingAndGlyphs" style="color:#ffffff;opacity:0.85">02:51:28</text>
<path d="M954.1 598.8 H988.6 a1.5 1.5 0 0 1 1.5 1.5 V612.6 a1.5 1.5 0 0 1 -1.5 1.5 H954.1 Z" fill="#ef5350"/>
<text class="ax" x="963.5" y="610.7" textLength="14.4" lengthAdjust="spacingAndGlyphs" style="color:#ffffff">1.2</text>
<text class="ax" x="980.8" y="610.7" textLength="6" lengthAdjust="spacingAndGlyphs" style="color:#ffffff">K</text>
<text class="ax" x="21.79" y="631.50" textLength="11.70" lengthAdjust="spacingAndGlyphs">25</text>
<text class="ax" x="94.11" y="631.50" textLength="11.70" lengthAdjust="spacingAndGlyphs">30</text>
<text class="ax" x="148.90" y="631.50" textLength="24.50" lengthAdjust="spacingAndGlyphs" style="font-weight:bold;stroke-width:0.2px">2026</text>
<text class="ax" x="230.54" y="631.50" textLength="5.85" lengthAdjust="spacingAndGlyphs">6</text>
<text class="ax" x="297.30" y="631.50" textLength="5.85" lengthAdjust="spacingAndGlyphs">8</text>
<text class="ax" x="355.57" y="631.50" textLength="11.70" lengthAdjust="spacingAndGlyphs">11</text>
<text class="ax" x="427.89" y="631.50" textLength="11.70" lengthAdjust="spacingAndGlyphs">14</text>
<text class="ax" x="494.64" y="631.50" textLength="11.70" lengthAdjust="spacingAndGlyphs">16</text>
<text class="ax" x="561.40" y="631.50" textLength="11.70" lengthAdjust="spacingAndGlyphs">20</text>
<text class="ax" x="628.16" y="631.50" textLength="11.70" lengthAdjust="spacingAndGlyphs">22</text>
<text class="ax" x="689.35" y="631.50" textLength="11.70" lengthAdjust="spacingAndGlyphs">25</text>
<text class="ax" x="761.67" y="631.50" textLength="11.70" lengthAdjust="spacingAndGlyphs">28</text>
<text class="ax" x="853.04" y="631.50" textLength="18.10" lengthAdjust="spacingAndGlyphs">Feb</text>
<text class="ax" x="931.48" y="631.50" textLength="5.85" lengthAdjust="spacingAndGlyphs">4</text>
<text class="hd" x="9.90" y="18.50" textLength="67.40" lengthAdjust="spacingAndGlyphs">angiepanoyan</text>
<text class="hd" x="81.00" y="18.50" textLength="38.10" lengthAdjust="spacingAndGlyphs">created</text>
<text class="hd" x="122.80" y="18.50" textLength="21.60" lengthAdjust="spacingAndGlyphs">with</text>
<text class="hd" x="149.10" y="18.50" textLength="86.20" lengthAdjust="spacingAndGlyphs">TradingView.com,</text>
<text class="hd" x="240.00" y="18.50" textLength="17.25" lengthAdjust="spacingAndGlyphs">Feb</text>
<text class="hd" x="261.00" y="18.50" textLength="14.60" lengthAdjust="spacingAndGlyphs">02,</text>
<text class="hd" x="280.30" y="18.50" textLength="22.50" lengthAdjust="spacingAndGlyphs">2026</text>
<text class="hd" x="307.50" y="18.50" textLength="26.60" lengthAdjust="spacingAndGlyphs">23:08</text>
<text class="hd" x="338.40" y="18.50" textLength="18.80" lengthAdjust="spacingAndGlyphs">UTC</text>
<text class="lg" x="16.90" y="43.70" textLength="49.10" lengthAdjust="spacingAndGlyphs">Australian</text>
<text class="lg" x="70.70" y="43.70" textLength="28.70" lengthAdjust="spacingAndGlyphs">Dollar</text>
<text class="lg" x="104.80" y="43.70" textLength="3.20" lengthAdjust="spacingAndGlyphs">/</text>
<text class="lg" x="112.50" y="43.70" textLength="20.25" lengthAdjust="spacingAndGlyphs">U.S.</text>
<text class="lg" x="136.90" y="43.70" textLength="29.10" lengthAdjust="spacingAndGlyphs">Dollar</text>
<text class="lg" x="170.90" y="43.70" text-anchor="middle" style="font-weight:bold;font-size:13px">·</text>
<text class="lg" x="177.20" y="43.70" textLength="11.20" lengthAdjust="spacingAndGlyphs">4h</text>
<text class="lg" x="193.20" y="43.70" text-anchor="middle" style="font-weight:bold;font-size:13px">·</text>
<text class="lg" x="200.25" y="43.70" textLength="33.75" lengthAdjust="spacingAndGlyphs">OANDA</text>
<text class="lg" x="241.00" y="43.70" textLength="7.00" lengthAdjust="spacingAndGlyphs">O</text>
<text class="lg" x="294.75" y="43.70" textLength="6.45" lengthAdjust="spacingAndGlyphs">H</text>
<text class="lg" x="347.40" y="43.70" textLength="5.20" lengthAdjust="spacingAndGlyphs">L</text>
<text class="lg" x="398.40" y="43.70" textLength="6.20" lengthAdjust="spacingAndGlyphs">C</text>
<text class="lg rv" x="248.40" y="43.70" textLength="39.40" lengthAdjust="spacingAndGlyphs">0.69540</text>
<text class="lg rv" x="301.60" y="43.70" textLength="37.80" lengthAdjust="spacingAndGlyphs">0.69561</text>
<text class="lg rv" x="353.00" y="43.70" textLength="38.90" lengthAdjust="spacingAndGlyphs">0.69456</text>
<text class="lg rv" x="405.00" y="43.70" textLength="39.40" lengthAdjust="spacingAndGlyphs">0.69510</text>
<text class="lg rv" x="451.30" y="43.70" textLength="45.20" lengthAdjust="spacingAndGlyphs">+0.00029</text>
<text class="lg rv" x="500.30" y="43.70" textLength="41.20" lengthAdjust="spacingAndGlyphs">(+0.04%)</text>
<text class="lg" x="16.90" y="59.00" textLength="15.00" lengthAdjust="spacingAndGlyphs">Vol</text>
<text class="lg" x="37.75" y="59.00" text-anchor="middle" style="font-weight:bold;font-size:13px">·</text>
<text class="lg" x="43.50" y="59.00" textLength="24.00" lengthAdjust="spacingAndGlyphs">Ticks</text>
<text class="lg rv" x="75.00" y="59.00" textLength="13.10" lengthAdjust="spacingAndGlyphs">1.2</text>
<text class="lg rv" x="91.90" y="59.00" textLength="6.50" lengthAdjust="spacingAndGlyphs">K</text>
<g transform="translate(11.5,657.75) scale(0.782,0.762)" fill="#131313">
<path d="M14 22H7V11H0V4h14v18z"/><circle cx="20" cy="8" r="4"/><path d="M28 22h-8l7.5-18h8L28 22z"/>
</g>
<text x="45.8" y="674.7" textLength="111.9" lengthAdjust="spacingAndGlyphs" style="font-size:20.6px;font-weight:bold;color:#131313;stroke-width:0;letter-spacing:-0.2px">TradingView</text>
</svg>
</body></html>
